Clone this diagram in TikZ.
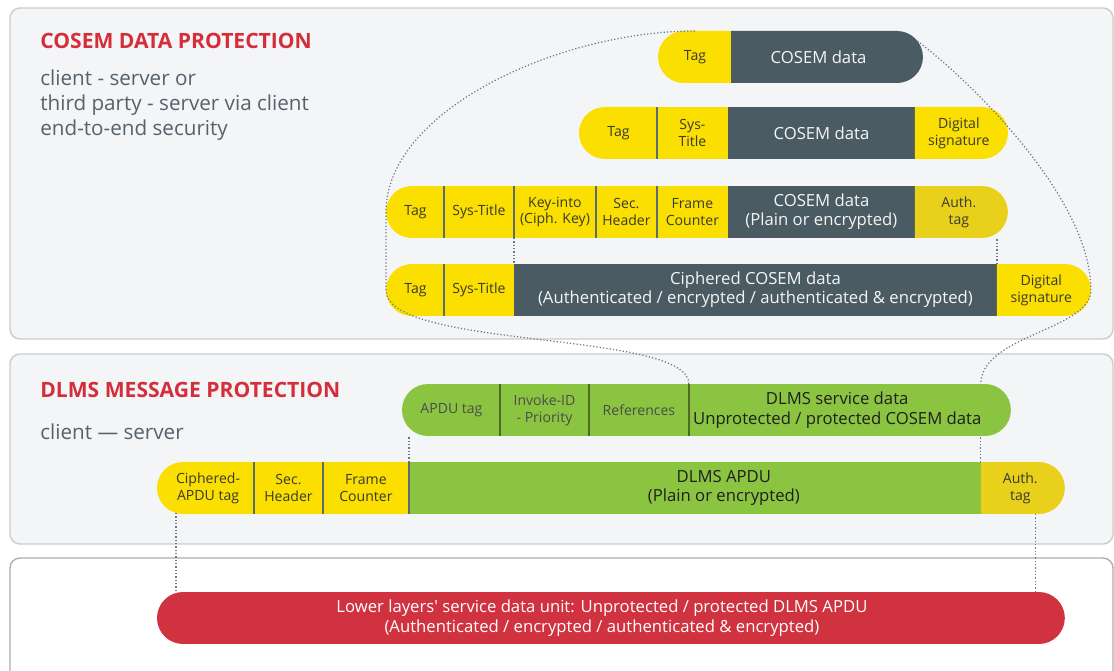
\documentclass[tikz,border=0pt]{standalone}
\usepackage{fontspec}
\setmainfont{Open Sans}
\usetikzlibrary{shapes,arrows,positioning,calc}
\definecolor{panelbg}{HTML}{F4F5F7}
\definecolor{panelline}{HTML}{CACCCE}
\definecolor{headred}{HTML}{D42E3B}
\definecolor{subgray}{HTML}{56626B}
\definecolor{cyellow}{HTML}{FADF00}
\definecolor{ayellow}{HTML}{E9D11B}
\definecolor{slate}{HTML}{4B5B63}
\definecolor{cgreen}{HTML}{8BC441}
\definecolor{lred}{HTML}{D0323F}
\definecolor{segtext}{HTML}{3A3A30}
\definecolor{dotgray}{HTML}{6E7880}

\begin{document}
\begin{tikzpicture}[x=0.02cm, y=-0.02cm, node distance=0pt,
  panel/.style={draw=panelline, line width=0.8pt, rounded corners=0.2cm},
  seg/.style={rectangle, inner sep=0pt, outer sep=0pt, minimum height=1.04cm, align=center, font=\fontsize{8}{9.6}\selectfont, text=segtext},
  yel/.style={seg, fill=cyellow},
  auth/.style={seg, fill=ayellow},
  grn/.style={seg, fill=cgreen, text=black!75},
  data/.style={seg, fill=slate, text=white!94!slate, font=\fontsize{9.5}{11}\selectfont},
  lend/.style={rounded rectangle, rounded rectangle east arc=none},
  rend/.style={rounded rectangle, rounded rectangle west arc=none},
  sep/.style={draw=slate!90, line width=0.7pt},
  gsep/.style={draw=cgreen!55!black, line width=0.7pt},
  dots/.style={draw=dotgray, line width=0.7pt, dash pattern=on 0.7pt off 1.2pt},
  head/.style={anchor=west, inner sep=0pt, font=\bfseries\fontsize{12}{14}\selectfont, text=headred},
  sub/.style={anchor=west, inner sep=0pt, align=left, font=\fontsize{11.75}{14.4}\selectfont, text=subgray}]
\useasboundingbox (0,0) rectangle (1114,671);
\clip (0,0) rectangle (1114,671);
\fill[white] (0,0) rectangle (1114,671);
\draw[panel, fill=panelbg] (10,8) rectangle (1113,339);
\draw[panel, fill=panelbg] (10,354) rectangle (1113,544);
\draw[panel, fill=white, draw=panelline!85!black] (10,558) rectangle (1113,700);

\node[head] (h1) at (40,41) {COSEM DATA PROTECTION};
\node[sub] (s1) at (40,105) {client - server or\\third party - server via client\\end-to-end security};
\node[head] (h2) at (40,390) {DLMS MESSAGE PROTECTION};
\node[sub] (s2) at (40,432) {client — server};

\node[yel, lend, minimum width=1.46cm, anchor=west] (tag1) at (658,57) {Tag};
\node[data, rend, minimum width=3.84cm, right=of tag1] (cd1) {COSEM data\hspace*{0.32cm}};

\node[yel, lend, minimum width=1.56cm, anchor=west] (tag2) at (579,133) {Tag};
\node[yel, minimum width=1.42cm, right=of tag2] (st2) {Sys-\\Title};
\node[data, minimum width=3.74cm, right=of st2] (cd2) {COSEM data};
\node[yel, rend, minimum width=1.86cm, right=of cd2] (ds2) {Digital\\signature};

\node[yel, lend, minimum width=1.16cm, anchor=west] (tag3) at (386,212) {Tag};
\node[yel, minimum width=1.40cm, right=of tag3] (st3) {Sys-Title};
\node[yel, minimum width=1.64cm, right=of st3] (ki3) {Key-into\\(Ciph. Key)};
\node[yel, minimum width=1.22cm, right=of ki3] (sh3) {Sec.\\Header};
\node[yel, minimum width=1.42cm, right=of sh3] (fc3) {Frame\\Counter};
\node[data, minimum width=3.74cm, right=of fc3] (cd3) {COSEM data\\(Plain or encrypted)};
\node[auth, rend, minimum width=1.86cm, right=of cd3] (at3) {Auth.\\tag};

\node[yel, lend, minimum width=1.16cm, anchor=west] (tag4) at (386,290) {Tag};
\node[yel, minimum width=1.40cm, right=of tag4] (st4) {Sys-Title};
\node[data, minimum width=9.66cm, right=of st4] (cd4) {Ciphered COSEM data\\(Authenticated / encrypted / authenticated \& encrypted)};
\node[yel, rend, minimum width=1.88cm, right=of cd4] (ds4) {Digital\\signature};

\node[grn, lend, minimum width=1.96cm, anchor=west, text=black!70] (at) at (402,410) {APDU tag};
\node[grn, minimum width=1.78cm, right=of at, text=black!70] (inv) {Invoke-ID\\- Priority};
\node[grn, minimum width=2.00cm, right=of inv, text=black!70] (ref) {References};
\node[grn, rend, minimum width=6.44cm, right=of ref, font=\fontsize{9.5}{11.2}\selectfont, text=black!88] (sd) {DLMS service data\hspace*{0.36cm}\\Unprotected / protected COSEM data\hspace*{0.36cm}};

\node[yel, lend, minimum width=1.94cm, anchor=west] (cat) at (157,488) {Ciphered-\\APDU tag};
\node[yel, minimum width=1.38cm, right=of cat] (sh) {Sec.\\Header};
\node[yel, minimum width=1.72cm, right=of sh] (fc) {Frame\\Counter};
\node[grn, minimum width=11.44cm, right=of fc, font=\fontsize{9.5}{11}\selectfont, text=black!88] (apdu) {\hspace*{1.16cm}DLMS APDU\\\hspace*{1.16cm}(Plain or encrypted)};
\node[auth, rend, minimum width=1.68cm, right=of apdu] (atB) {Auth.\\tag};

\node[seg, rounded rectangle, fill=lred, text=white, minimum width=18.16cm, anchor=west, font=\fontsize{9.5}{11.4}\selectfont] (low) at (157,618) {Lower layers\textquotesingle{} service data unit: Unprotected / protected DLMS APDU\hspace*{0.36cm}\\(Authenticated / encrypted / authenticated \& encrypted)\hspace*{0.36cm}};

\foreach \n in {st2,st3,ki3,sh3,fc3,st4,sh,fc,apdu} \draw[sep] (\n.north west) -- (\n.south west);
\foreach \n in {inv,ref} \draw[gsep] (\n.north west) -- (\n.south west);
\draw[gsep] (ref.north east) -- (ref.south east);

\draw[dots] (tag1.north) .. controls (560,31) and (386,110) .. (tag3.west) -- (tag4.west) .. controls (386,350) and (689,330) .. (ref.north east);
\draw[dots] (cd1.10) .. controls (975,85) and (1091,200) .. (ds4.east) .. controls (1091,330) and (981,335) .. (apdu.north east |- sd.north);
\draw[dots] (st3.south east) -- (st4.north east);
\draw[dots] (cd4.north east) -- (cd4.north east |- at3.south);
\draw[dots] (apdu.north west) -- (apdu.north west |- at.south);
\draw[dots] (apdu.north east) -- (apdu.north east |- sd.south);
\draw[dots] (cat.218) -- (cat.218 |- low.north);
\draw[dots] (atB.300) -- (atB.300 |- low.north);
\end{tikzpicture}
\end{document}
